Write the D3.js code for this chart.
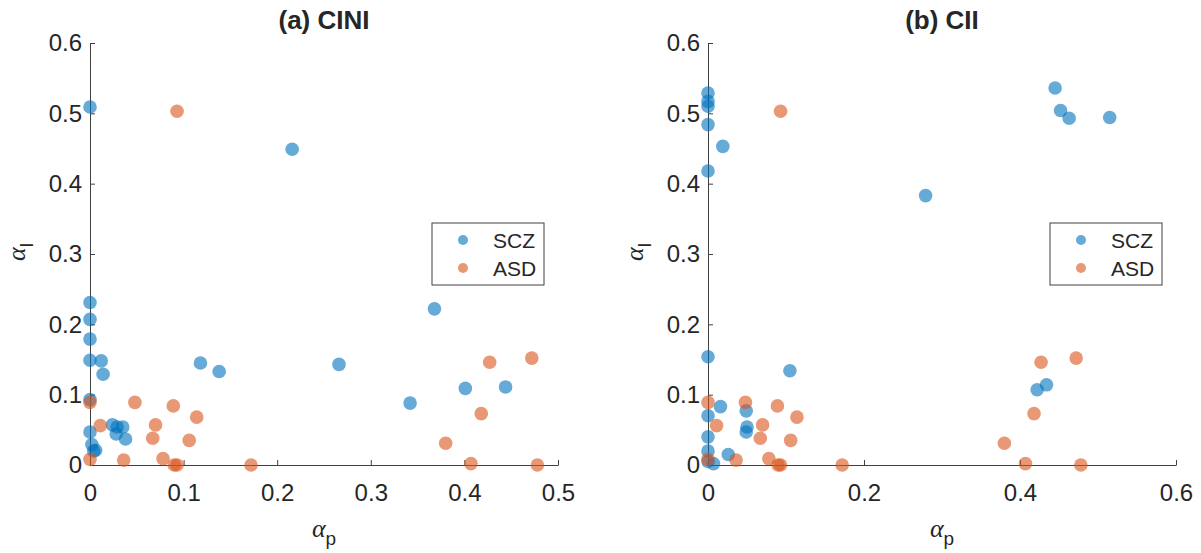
<!DOCTYPE html>
<html>
<head>
<meta charset="utf-8">
<script src="https://d3js.org/d3.v7.min.js"></script>
<style>
  body { margin: 0; background: #fff; }
  text { font-family: "Liberation Sans", Arial, sans-serif; fill: #262626; }
</style>
</head>
<body>
<svg id="drawing_region"></svg>
<script>
var series_names = ['SCZ', 'ASD'];
var titles = ['(a) CINI', '(b) CII'];
var x_ticks_a = [0, 0.1, 0.2, 0.3, 0.4, 0.5];
var x_ticks_b = [0, 0.2, 0.4, 0.6];
var y_ticks = [0, 0.1, 0.2, 0.3, 0.4, 0.5, 0.6];

// (a) CINI - SCZ
var cini_scz_p = [0, 0.216, 0, 0, 0, 0, 0.012, 0.014, 0.118, 0.138, 0.266, 0.368, 0.342, 0.401, 0.444,
                  0, 0, 0.002, 0.004, 0.006, 0.024, 0.029, 0.035, 0.028, 0.038];
var cini_scz_l = [0.509, 0.449, 0.231, 0.207, 0.179, 0.149, 0.148, 0.129, 0.145, 0.133, 0.143, 0.222, 0.088, 0.109, 0.111,
                  0.093, 0.047, 0.029, 0.020, 0.021, 0.057, 0.054, 0.054, 0.044, 0.037];

// (b) CII - SCZ
var cii_scz_p = [0, 0, 0, 0, 0.019, 0, 0.279, 0.445, 0.452, 0.463, 0.515, 0, 0.105, 0.422, 0.434,
                 0.016, 0.049, 0.050, 0.049, 0, 0, 0, 0.026, 0.007, 0];
var cii_scz_l = [0.529, 0.517, 0.510, 0.484, 0.453, 0.418, 0.383, 0.536, 0.504, 0.493, 0.494, 0.154, 0.134, 0.107, 0.114,
                 0.083, 0.077, 0.054, 0.047, 0.070, 0.040, 0.020, 0.015, 0.002, 0.005];

// ASD (same in both panels)
var asd_p = [0.093, 0, 0.011, 0.048, 0.089, 0.070, 0.114, 0.067, 0.106, 0, 0.036, 0.078, 0.090, 0.093, 0.172,
             0.380, 0.407, 0.418, 0.427, 0.472, 0.478];
var asd_l = [0.503, 0.089, 0.056, 0.089, 0.084, 0.057, 0.068, 0.038, 0.035, 0.008, 0.007, 0.009, 0, 0, 0,
             0.031, 0.002, 0.073, 0.146, 0.152, 0];

var colors = ['#0072BD', '#D95319'];

d3.select('#drawing_region')
    .attr('width', 1201)
    .attr('height', 553);

class ScatterPlot {
  constructor(config, series) {
    this.config = {
      parent: config.parent,
      left: config.left,
      top: config.top || 43,
      width: config.width || 468,
      height: config.height || 422,
      xdomain: config.xdomain,
      xticks: config.xticks,
      title: config.title
    };
    this.series = series;
    this.init();
  }
  init() {
    let self = this;
    self.svg = d3.select(self.config.parent);
    self.chart = self.svg.append('g')
        .attr('transform', `translate(${self.config.left}, ${self.config.top})`);

    self.xscale = d3.scaleLinear()
        .domain(self.config.xdomain)
        .range([0, self.config.width]);
    self.yscale = d3.scaleLinear()
        .domain([0, 0.6])
        .range([self.config.height, 0]);

    self.xaxis = d3.axisBottom(self.xscale)
        .tickValues(self.config.xticks)
        .tickSizeInner(-5)
        .tickSizeOuter(0)
        .tickPadding(19)
        .tickFormat(d3.format('~g'));
    self.yaxis = d3.axisLeft(self.yscale)
        .tickValues(y_ticks)
        .tickSizeInner(-5)
        .tickSizeOuter(0)
        .tickPadding(8)
        .tickFormat(d3.format('~g'));

    self.xaxis_group = self.chart.append('g')
        .attr('transform', `translate(0, ${self.config.height})`);
    self.yaxis_group = self.chart.append('g');
  }
  render() {
    let self = this;
    [self.xaxis_group.call(self.xaxis), self.yaxis_group.call(self.yaxis)].forEach(g => {
      g.selectAll('path, line').attr('stroke', '#404040');
      g.selectAll('text')
          .attr('fill', '#262626')
          .style('font-size', '24px')
          .style('font-family', '"Liberation Sans", Arial, sans-serif');
    });

    self.series.forEach((s, i) => {
      self.chart.append('g')
        .selectAll('circle')
        .data(d3.zip(s.p, s.l))
        .join('circle')
        .attr('cx', d => self.xscale(d[0]))
        .attr('cy', d => self.yscale(d[1]))
        .attr('r', 6.8)
        .attr('fill', colors[i])
        .attr('fill-opacity', 0.6);
    });

    // title
    self.chart.append('text')
        .attr('x', self.config.width / 2)
        .attr('y', -14)
        .attr('text-anchor', 'middle')
        .style('font-size', '26px')
        .style('font-weight', 'bold')
        .text(self.config.title);

    // x label
    let xl = self.chart.append('text')
        .attr('x', self.config.width / 2)
        .attr('y', 494)
        .attr('text-anchor', 'middle')
        .style('font-size', '26px');
    xl.append('tspan').style('font-family', '"Liberation Serif", serif').style('font-style', 'italic').text('α');
    xl.append('tspan').attr('dy', 8).style('font-size', '19px').text('p');

    // y label
    let yl = self.chart.append('text')
        .attr('transform', `translate(-65, 209) rotate(-90)`)
        .attr('text-anchor', 'middle')
        .style('font-size', '26px');
    yl.append('tspan').style('font-family', '"Liberation Serif", serif').style('font-style', 'italic').text('α');
    yl.append('tspan').attr('dy', 8).style('font-size', '19px').text('l');

    // legend
    let lg = self.chart.append('g')
        .attr('transform', 'translate(342, 180)');
    lg.append('rect')
        .attr('width', 112)
        .attr('height', 62)
        .attr('fill', '#fff')
        .attr('stroke', '#404040');
    series_names.forEach((n, i) => {
      lg.append('circle')
          .attr('cx', 31)
          .attr('cy', 17 + i * 28)
          .attr('r', 5)
          .attr('fill', colors[i])
          .attr('fill-opacity', 0.6);
      lg.append('text')
          .attr('x', 61)
          .attr('y', 25 + i * 28)
          .style('font-size', '21px')
          .text(n);
    });
  }
}

const plot_a = new ScatterPlot(
  { parent: '#drawing_region', left: 90, xdomain: [0, 0.5], xticks: x_ticks_a, title: titles[0] },
  [{ p: cini_scz_p, l: cini_scz_l }, { p: asd_p, l: asd_l }]);
plot_a.render();

const plot_b = new ScatterPlot(
  { parent: '#drawing_region', left: 708, xdomain: [0, 0.6], xticks: x_ticks_b, title: titles[1] },
  [{ p: cii_scz_p, l: cii_scz_l }, { p: asd_p, l: asd_l }]);
plot_b.render();
</script>
</body>
</html>
